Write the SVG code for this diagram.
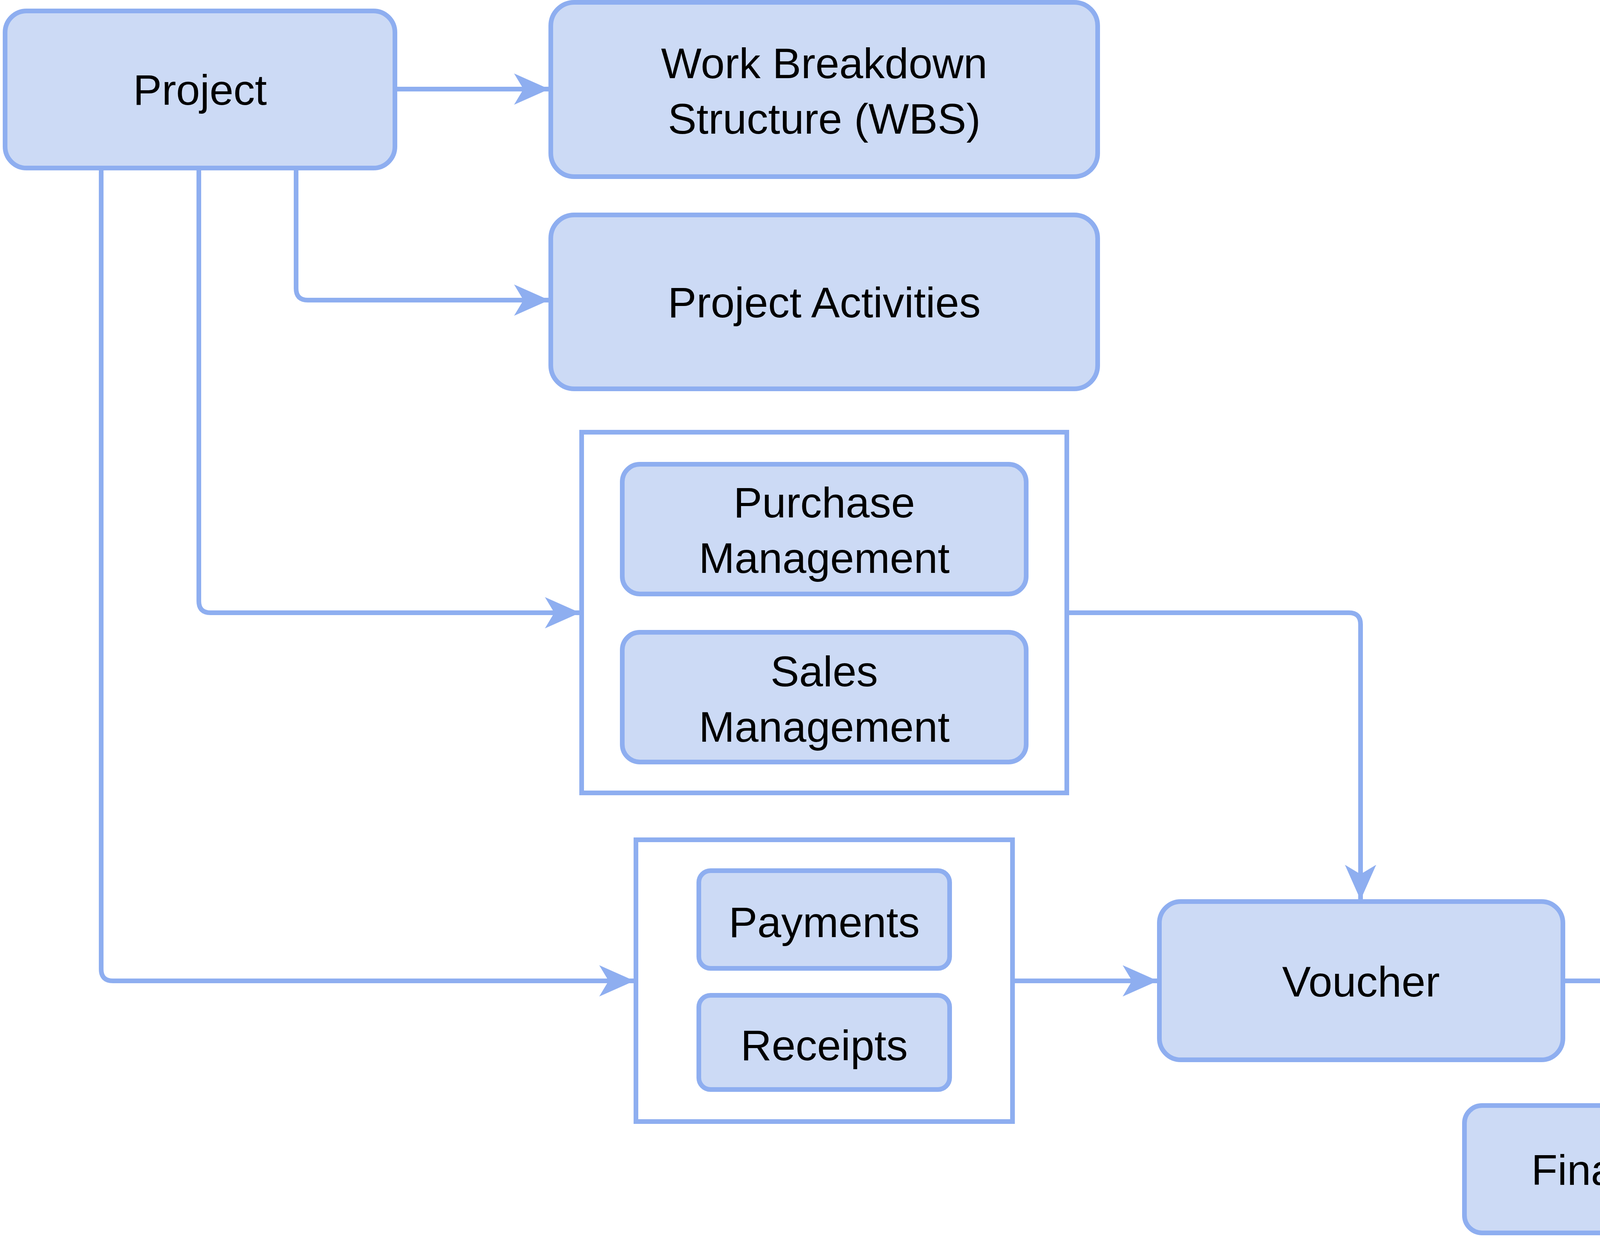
<svg xmlns="http://www.w3.org/2000/svg" width="4956" height="3168" viewBox="0 0 4956 3168">
<style>
.n{fill:#CCDAF5;stroke:#8EAEF0;stroke-width:12}
.c{fill:#FFFFFF;stroke:#8EAEF0;stroke-width:12}
.t{font-family:"Liberation Sans",Arial,sans-serif;font-size:110px;fill:#000;text-anchor:middle}
.e{fill:none;stroke:#8EAEF0;stroke-width:12;stroke-linejoin:round}
</style>
<defs>
<marker id="a" markerUnits="userSpaceOnUse" markerWidth="90" markerHeight="80" viewBox="0 0 90 80" refX="88" refY="40" orient="auto">
<path d="M0,0 L90,40 L0,80 L24,40 Z" fill="#8EAEF0"/>
</marker>
</defs>
<rect x="0" y="0" width="4956" height="3168" fill="#FFFFFF"/>
<g id="c1"><rect class="c" x="1489" y="1106" width="1242" height="923"/></g>
<g id="c2"><rect class="c" x="1628" y="2149" width="964" height="721"/></g>
<g id="project"><rect class="n" x="13" y="28" width="998" height="402" rx="55"/><text class="t" x="512" y="268">Project</text></g>
<g id="wbs"><rect class="n" x="1410" y="6" width="1400" height="446" rx="60"/><text class="t" x="2110" y="200">Work Breakdown</text><text class="t" x="2110" y="342">Structure (WBS)</text></g>
<g id="activities"><rect class="n" x="1410" y="550" width="1400" height="445" rx="60"/><text class="t" x="2110" y="812">Project Activities</text></g>
<g id="purchase"><rect class="n" x="1593" y="1188" width="1034" height="332" rx="45"/><text class="t" x="2110" y="1324">Purchase</text><text class="t" x="2110" y="1466">Management</text></g>
<g id="sales"><rect class="n" x="1593" y="1618" width="1034" height="332" rx="45"/><text class="t" x="2110" y="1756">Sales</text><text class="t" x="2110" y="1898">Management</text></g>
<g id="payments"><rect class="n" x="1789" y="2228" width="642" height="250" rx="30"/><text class="t" x="2110" y="2398">Payments</text></g>
<g id="receipts"><rect class="n" x="1789" y="2547" width="642" height="241" rx="30"/><text class="t" x="2110" y="2713">Receipts</text></g>
<g id="voucher"><rect class="n" x="2968" y="2307" width="1033" height="405" rx="55"/><text class="t" x="3484" y="2550">Voucher</text></g>
<g id="financial"><rect class="n" x="3749" y="2829" width="1198" height="326" rx="45"/><text class="t" x="4348" y="3032">Financial Reports</text></g>
<g id="connectors">
<path class="e" marker-end="url(#a)" d="M1011,228 H1404"/>
<path class="e" marker-end="url(#a)" d="M758,430 V738 Q758,768 788,768 H1404"/>
<path class="e" marker-end="url(#a)" d="M509,430 V1538 Q509,1568 539,1568 H1483"/>
<path class="e" marker-end="url(#a)" d="M259,430 V2480 Q259,2510 289,2510 H1622"/>
<path class="e" marker-end="url(#a)" d="M2731,1568 H3453 Q3483,1568 3483,1598 V2301"/>
<path class="e" marker-end="url(#a)" d="M2592,2510 H2962"/>
<path class="e" marker-end="url(#a)" d="M4001,2510 H4319 Q4349,2510 4349,2540 V2823"/>
</g>
</svg>
